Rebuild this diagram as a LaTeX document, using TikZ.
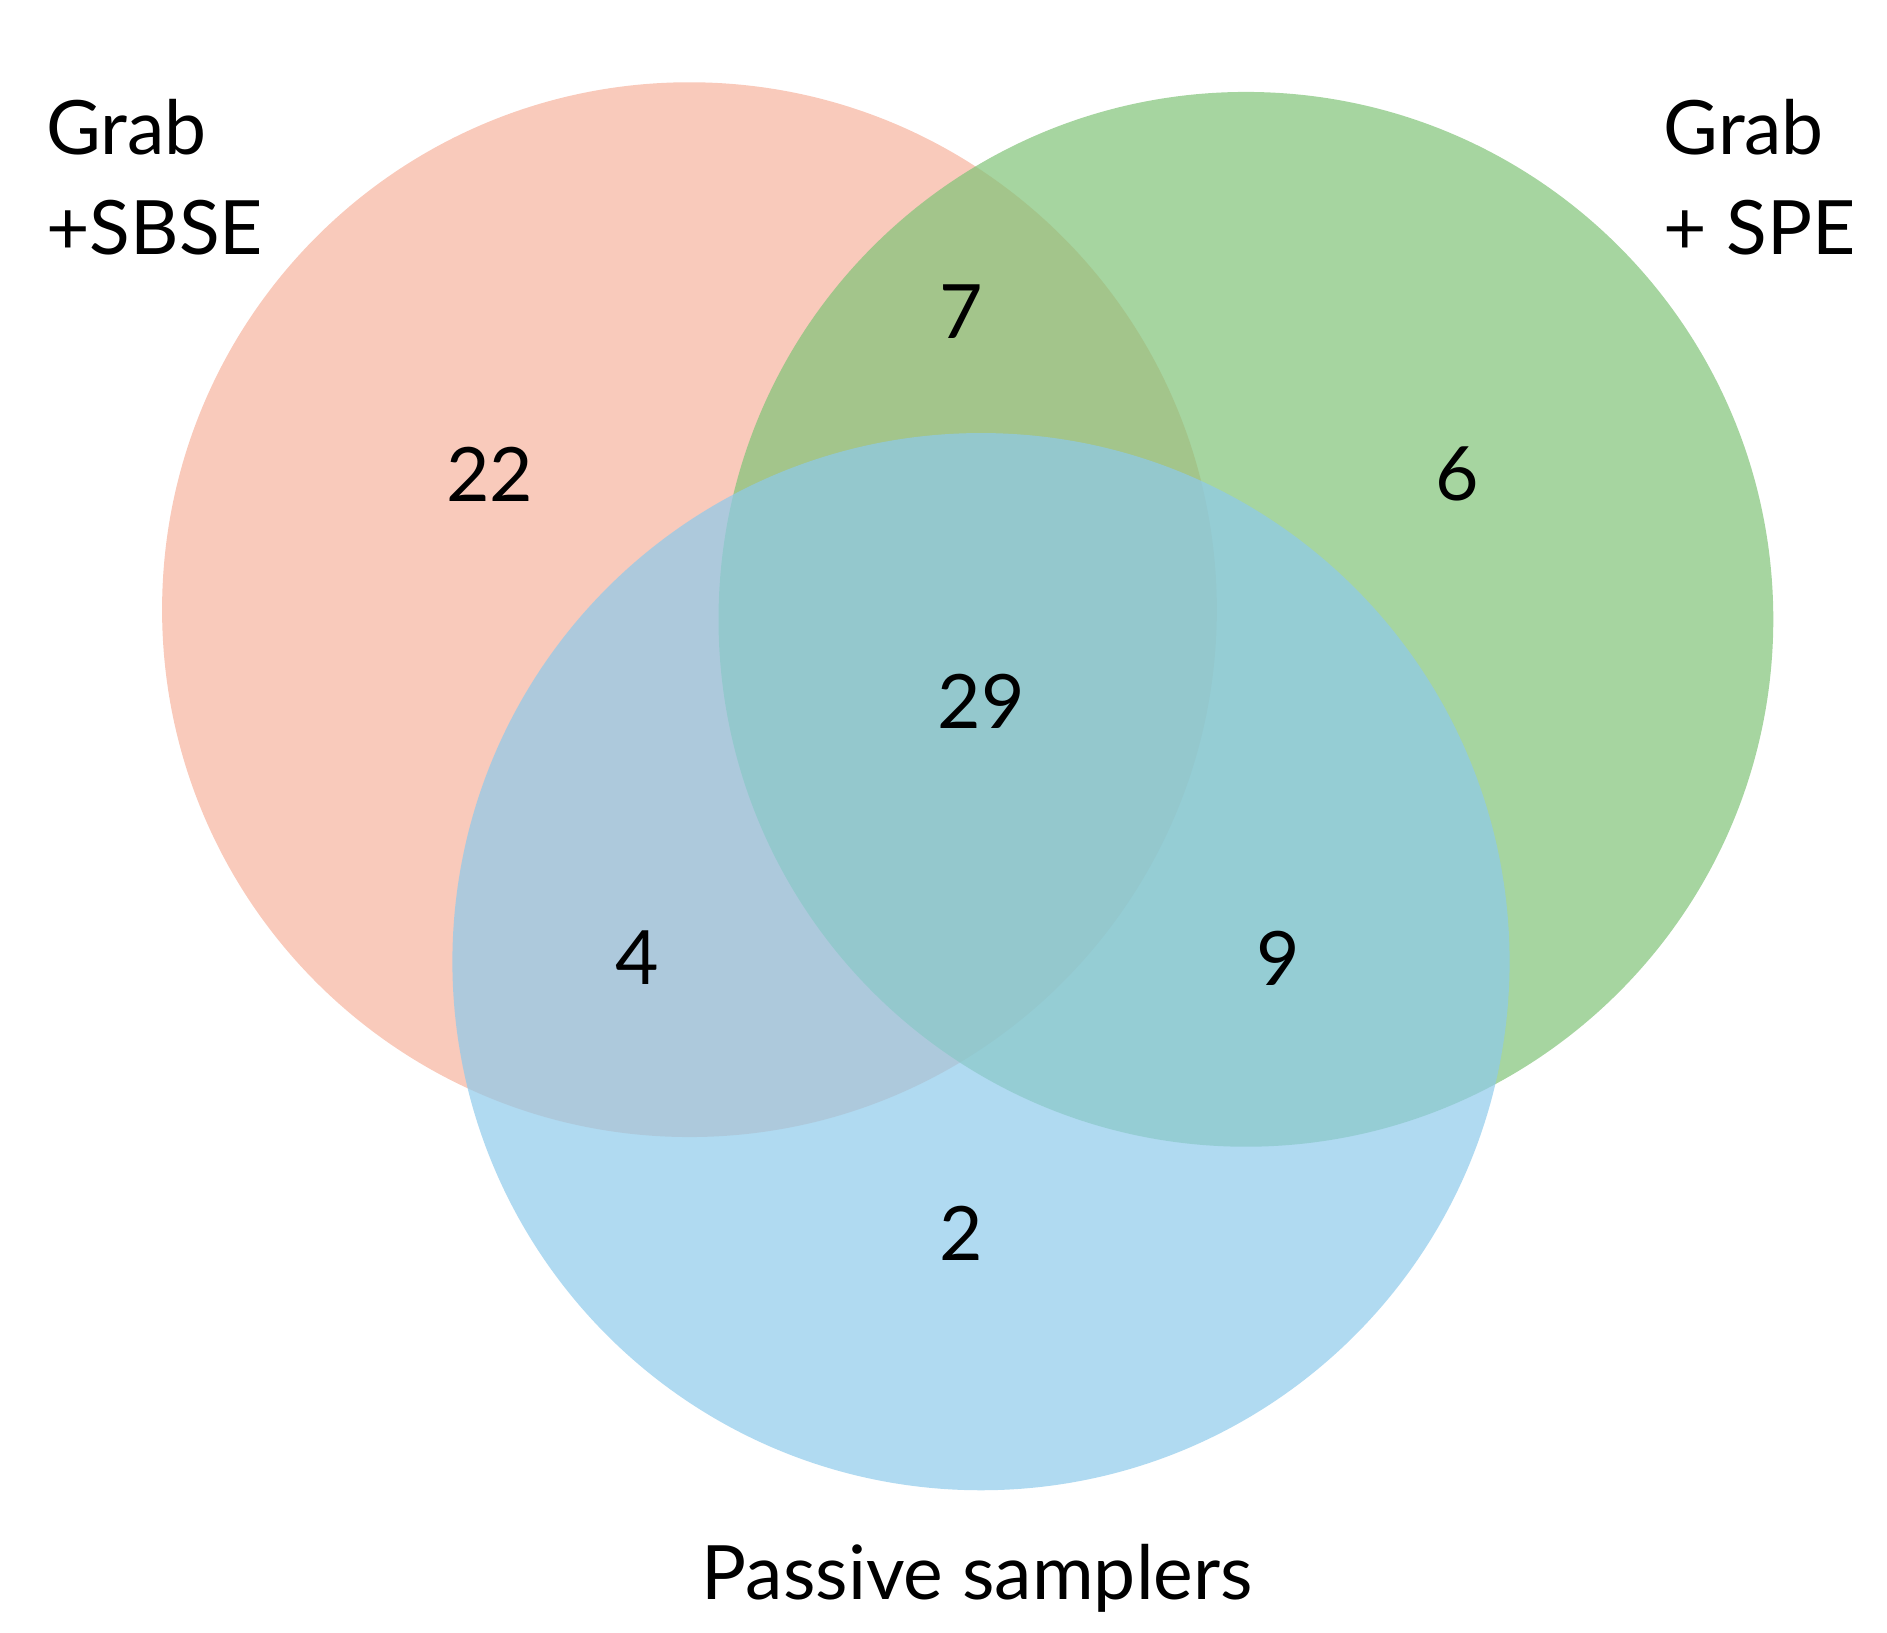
\documentclass[tikz,border=0pt]{standalone}
\usepackage{fontspec}
\setmainfont{Lato}
\definecolor{cr}{RGB}{246,179,158}
\definecolor{cg}{RGB}{128,195,119}
\definecolor{cb}{RGB}{142,202,235}
\begin{document}
\begin{tikzpicture}[x=0.5pt,y=-0.5pt,
  lab/.style={font=\fontsize{31}{36}\selectfont, inner sep=0pt},
  venn/.style={fill opacity=0.7, draw=none}]
\useasboundingbox (0,0) rectangle (1560,1350);
\fill[venn,cr] (570,504) circle (436);
\fill[venn,cg] (1030,512) circle (436);
\fill[venn,cb] (811,795) circle (437);
\node[lab,anchor=west] (g1) at (38,105) {Grab};
\node[lab,anchor=west] (s1) at (38,188) {+SBSE};
\node[lab,anchor=west] (g2) at (1375,105) {Grab};
\node[lab,anchor=west] (s2) at (1375,188) {+ SPE};
\node[lab] (n22) at (405,392) {22};
\node[lab] (n7) at (795,258) {7};
\node[lab] (n6) at (1205,392) {6};
\node[lab] (n29) at (811,580) {29};
\node[lab] (n4) at (527,792) {4};
\node[lab] (n9) at (1057,792) {9};
\node[lab] (n2) at (795,1020) {2};
\node[lab] (ps) at (808,1305) {Passive samplers};
\end{tikzpicture}
\end{document}
